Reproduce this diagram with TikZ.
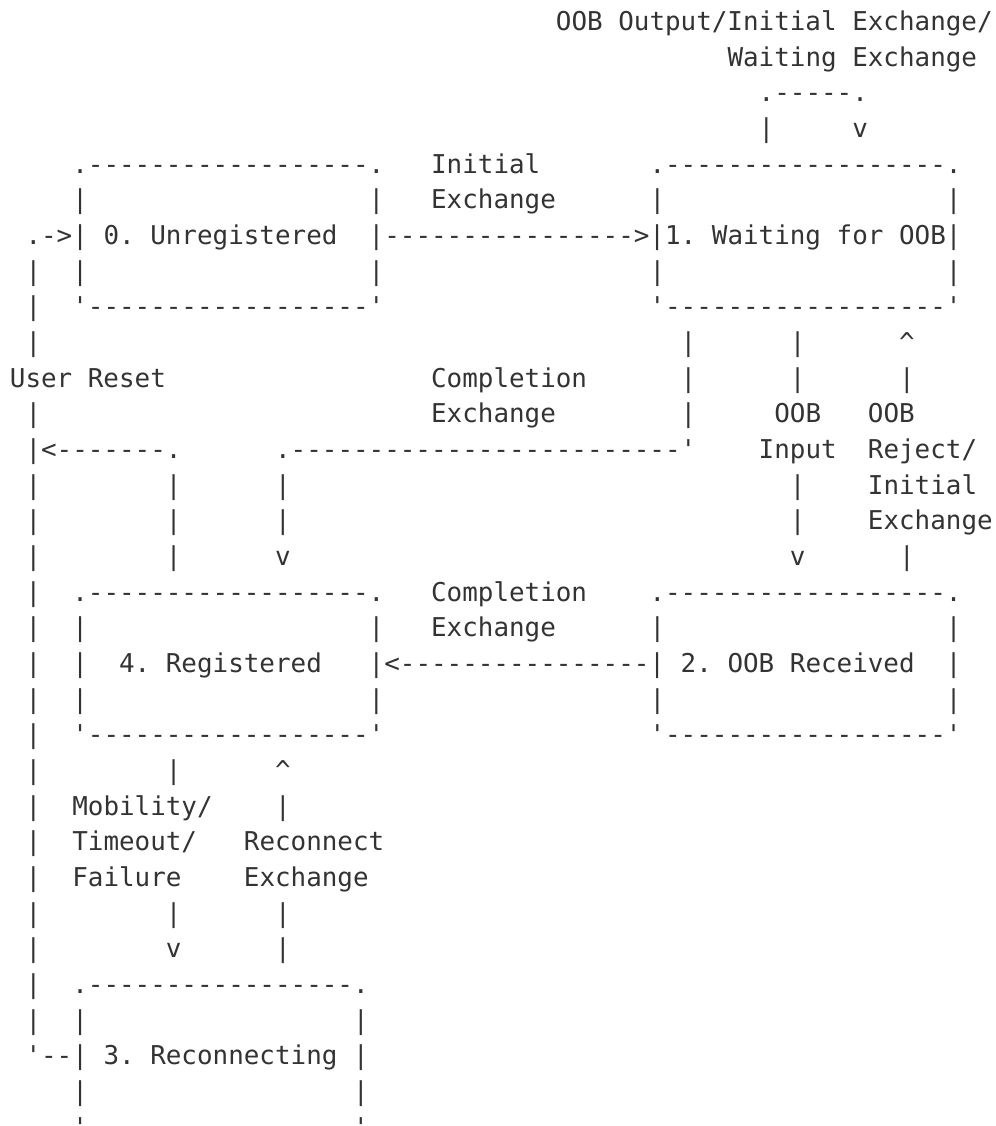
\documentclass[tikz,border=0pt]{standalone}
\usepackage{fontspec}
\setmonofont{DejaVu Sans Mono}
\definecolor{ink}{HTML}{333333}
\tikzset{asc/.style={anchor=base west, inner sep=0pt, outer sep=0pt, text=ink,
  font=\ttfamily\fontsize{25.91}{26}\selectfont\frenchspacing}}
\newcommand\tx[4]{\node[asc] (#1) at (#2,#3) {#4};}
\newcommand\up{{\char94}}
\begin{document}
\begin{tikzpicture}[x=15.6pt, y=-35.66pt]
\useasboundingbox (0pt,0pt) rectangle (995pt,-1126pt);
\clip (0pt,0pt) rectangle (995pt,-1126pt);
\begin{scope}[shift={(0.635,-0.14)}]
% line 1-4
\tx{lbloop}{35}{1}{OOB Output/Initial Exchange/}
\tx{lbloopb}{46}{2}{Waiting Exchange}
\tx{looptop}{48}{3}{.-----.}
\tx{loopl}{48}{4}{|}
\tx{loopr}{54}{4}{v}
% line 5
\tx{bzt}{4}{5}{.------------------.}
\tx{lbinit}{27}{5}{Initial}
\tx{bot}{41}{5}{.------------------.}
% line 6
\tx{bza}{4}{6}{|}
\tx{bzb}{23}{6}{|}
\tx{lbinitb}{27}{6}{Exchange}
\tx{boa}{41}{6}{|}
\tx{bob}{60}{6}{|}
% line 7
\tx{resin}{1}{7}{.->|}
\tx{bz}{6}{7}{0. Unregistered}
\tx{arrzo}{23}{7}{|---------------->|}
\tx{bo}{42}{7}{1. Waiting for OOB|}
% line 8
\tx{r8}{1}{8}{|}
\tx{bzc}{4}{8}{|}
\tx{bzd}{23}{8}{|}
\tx{boc}{41}{8}{|}
\tx{bod}{60}{8}{|}
% line 9
\tx{r9}{1}{9}{|}
\tx{bzbot}{4}{9}{'------------------'}
\tx{bobot}{41}{9}{'------------------'}
% line 10
\tx{r10}{1}{10}{|}
\tx{cfa}{43}{10}{|}
\tx{oia}{50}{10}{|}
\tx{ora}{57}{10}{\up}
% line 11
\tx{lbreset}{0}{11}{User Reset}
\tx{lbcompa}{27}{11}{Completion}
\tx{cfb}{43}{11}{|}
\tx{oib}{50}{11}{|}
\tx{orb}{57}{11}{|}
% line 12
\tx{r12}{1}{12}{|}
\tx{lbcompb}{27}{12}{Exchange}
\tx{cfc}{43}{12}{|}
\tx{lboia}{49}{12}{OOB}
\tx{lbora}{55}{12}{OOB}
% line 13
\tx{r13}{1}{13}{|<-------.}
\tx{cfd}{17}{13}{.-------------------------'}
\tx{lboib}{48}{13}{Input}
\tx{lborb}{55}{13}{Reject/}
% line 14
\tx{r14}{1}{14}{|}
\tx{rfa}{10}{14}{|}
\tx{cfe}{17}{14}{|}
\tx{oic}{50}{14}{|}
\tx{lborc}{55}{14}{Initial}
% line 15
\tx{r15}{1}{15}{|}
\tx{rfb}{10}{15}{|}
\tx{cff}{17}{15}{|}
\tx{oid}{50}{15}{|}
\tx{lbord}{55}{15}{Exchange}
% line 16
\tx{r16}{1}{16}{|}
\tx{rfc}{10}{16}{|}
\tx{cfg}{17}{16}{v}
\tx{oie}{50}{16}{v}
\tx{orc}{57}{16}{|}
% line 17
\tx{r17}{1}{17}{|}
\tx{bft}{4}{17}{.------------------.}
\tx{lbcompc}{27}{17}{Completion}
\tx{btt}{41}{17}{.------------------.}
% line 18
\tx{r18}{1}{18}{|}
\tx{bfa}{4}{18}{|}
\tx{bfb}{23}{18}{|}
\tx{lbcompd}{27}{18}{Exchange}
\tx{bta}{41}{18}{|}
\tx{btb}{60}{18}{|}
% line 19
\tx{r19}{1}{19}{|}
\tx{bfc}{4}{19}{|}
\tx{bf}{7}{19}{4. Registered}
\tx{arrtf}{23}{19}{|<----------------|}
\tx{bt}{43}{19}{2. OOB Received}
\tx{btc}{60}{19}{|}
% line 20
\tx{r20}{1}{20}{|}
\tx{bfd}{4}{20}{|}
\tx{bfe}{23}{20}{|}
\tx{btd}{41}{20}{|}
\tx{bte}{60}{20}{|}
% line 21
\tx{r21}{1}{21}{|}
\tx{bfbot}{4}{21}{'------------------'}
\tx{btbot}{41}{21}{'------------------'}
% line 22
\tx{r22}{1}{22}{|}
\tx{mfa}{10}{22}{|}
\tx{rca}{17}{22}{\up}
% line 23
\tx{r23}{1}{23}{|}
\tx{lbmoba}{4}{23}{Mobility/}
\tx{rcb}{17}{23}{|}
% line 24
\tx{r24}{1}{24}{|}
\tx{lbmobb}{4}{24}{Timeout/}
\tx{lbreca}{15}{24}{Reconnect}
% line 25
\tx{r25}{1}{25}{|}
\tx{lbmobc}{4}{25}{Failure}
\tx{lbrecb}{15}{25}{Exchange}
% line 26
\tx{r26}{1}{26}{|}
\tx{mfb}{10}{26}{|}
\tx{rcc}{17}{26}{|}
% line 27
\tx{r27}{1}{27}{|}
\tx{mfc}{10}{27}{v}
\tx{rcd}{17}{27}{|}
% line 28
\tx{r28}{1}{28}{|}
\tx{brt}{4}{28}{.-----------------.}
% line 29
\tx{r29}{1}{29}{|}
\tx{bra}{4}{29}{|}
\tx{brb}{22}{29}{|}
% line 30
\tx{r30}{1}{30}{'--|}
\tx{br}{6}{30}{3. Reconnecting}
\tx{brc}{22}{30}{|}
% line 31
\tx{brd}{4}{31}{|}
\tx{bre}{22}{31}{|}
% line 32
\tx{brbot}{4}{32}{'-----------------'}
\end{scope}
\end{tikzpicture}
\end{document}
